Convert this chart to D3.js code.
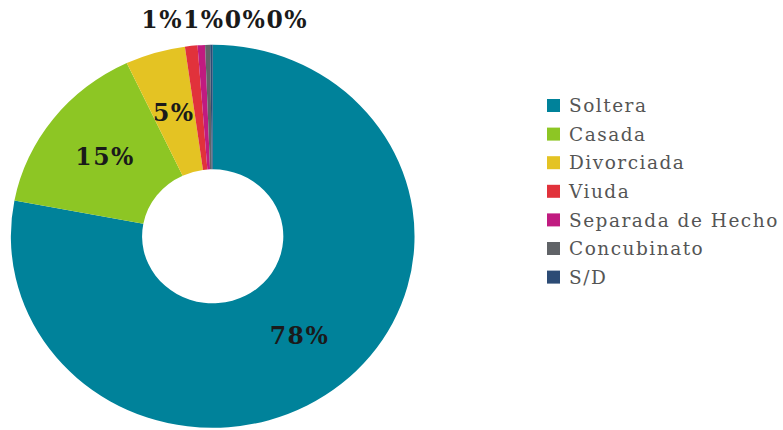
<!DOCTYPE html>
<html>
<head>
<meta charset="utf-8">
<script src="https://cdn.jsdelivr.net/npm/d3@7"></script>
<style>
  html, body { margin: 0; padding: 0; background: #fff; }
  svg { display: block; }
</style>
</head>
<body>
<svg id="chart" width="783" height="430"></svg>
<script>
// Estado civil: share of each category (percent)
const categories = ["Soltera", "Casada", "Divorciada", "Viuda", "Separada de Hecho", "Concubinato", "S/D"];
const values = [78.0, 15.0, 4.8, 1.0, 0.6, 0.4, 0.2];
const colors = ["#00829a", "#8dc624", "#e4c323", "#e1323b", "#c01b80", "#606367", "#2c4b75"];

const svg = d3.select("#chart");
const cx = 212.7, cy = 236.3;
const outerR = 191.5, innerR = 67;
const stretchX = 1.054;          // donut is drawn slightly wider than tall

const data = categories.map((c, i) => ({ name: c, value: values[i], color: colors[i] }));
const total = d3.sum(values);

const pie = d3.pie().value(d => d.value).sort(null);
const arcs = pie(data);
const arc = d3.arc().innerRadius(innerR).outerRadius(outerR);

const g = svg.append("g").attr("transform", `translate(${cx},${cy}) scale(${stretchX},1)`);
g.selectAll("path")
  .data(arcs)
  .join("path")
  .attr("d", arc)
  .attr("fill", d => d.data.color);

const fmt = v => Math.round(v / total * 100) + "%";
const labelFont = "'DejaVu Serif', serif";

// Labels that fit go at the slice centroid
const big = arcs.filter(d => (d.endAngle - d.startAngle) > 0.15);
const small = arcs.filter(d => (d.endAngle - d.startAngle) <= 0.15);

svg.append("g").selectAll("text")
  .data(big)
  .join("text")
  .attr("x", d => cx + arc.centroid(d)[0] * stretchX)
  .attr("y", d => cy + arc.centroid(d)[1])
  .attr("dy", "0.35em")
  .attr("text-anchor", "middle")
  .attr("font-family", labelFont)
  .attr("font-weight", "bold")
  .attr("font-size", 23.5)
  .attr("letter-spacing", 1.5)
  .attr("fill", "#1a1a1a")
  .text(d => fmt(d.data.value));

// Thin slices: labels packed in a row above the donut
const rowG = svg.append("g");
const rowTexts = rowG.selectAll("text")
  .data(small)
  .join("text")
  .attr("y", 28)
  .attr("font-family", labelFont)
  .attr("font-weight", "bold")
  .attr("font-size", 23.5)
  .attr("letter-spacing", 1.5)
  .attr("fill", "#1a1a1a")
  .text(d => fmt(d.data.value));
const widths = [];
rowTexts.each(function () { widths.push(this.getComputedTextLength()); });
const rowWidth = d3.sum(widths);
let xPos = cx + 12 - rowWidth / 2;
rowTexts.attr("x", (d, i) => { const x = xPos; xPos += widths[i]; return x; });

// Legend
const legend = svg.append("g").attr("transform", "translate(547,99)");
const rowH = 28.6;
const item = legend.selectAll("g")
  .data(data)
  .join("g")
  .attr("transform", (d, i) => `translate(0,${i * rowH})`);
item.append("rect")
  .attr("width", 13).attr("height", 13)
  .attr("fill", d => d.color);
item.append("text")
  .attr("x", 22).attr("y", 6.5)
  .attr("dy", "0.36em")
  .attr("font-family", labelFont)
  .attr("font-size", 18.5)
  .attr("letter-spacing", 1.5)
  .attr("fill", "#555")
  .text(d => d.name);
</script>
</body>
</html>
